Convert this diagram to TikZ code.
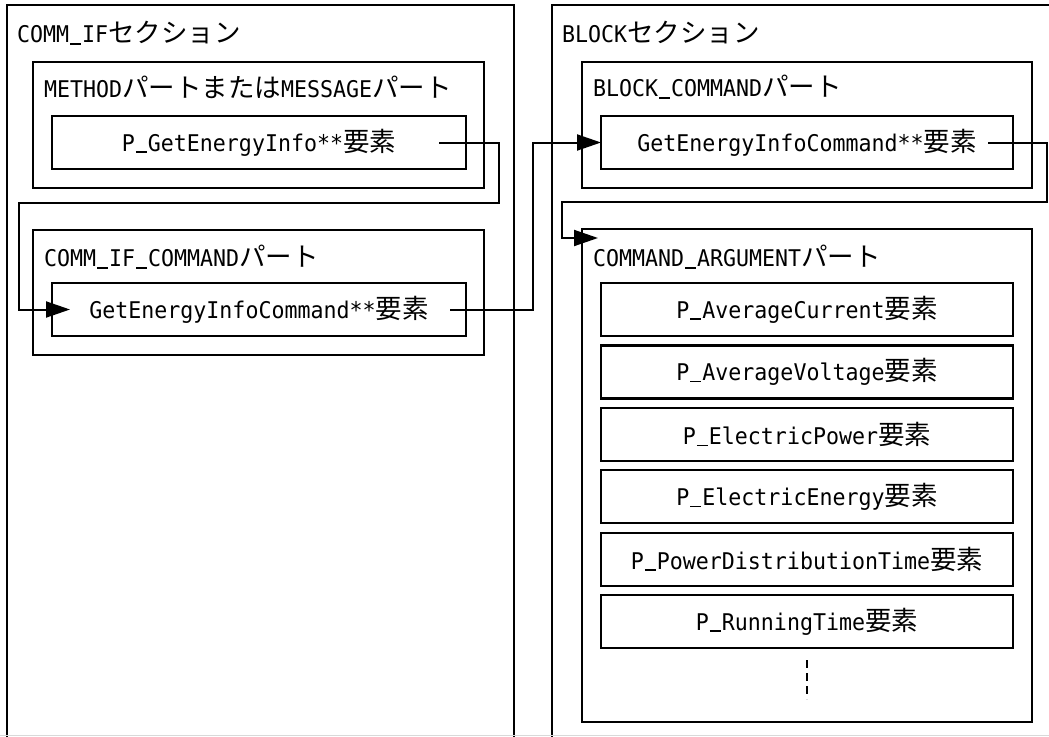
\documentclass[tikz,border=0pt]{standalone}
\usepackage{fontspec}
\setmainfont[FakeStretch=0.94]{DejaVu Sans Mono}
\newfontfamily\jpf{Noto Sans CJK JP}
\usetikzlibrary{arrows.meta,calc}
\newcommand\jtx[1]{{\jpf\fontsize{26.5}{26.5}\selectfont #1}}
\newcommand\us{\makebox[13pt][c]{\rule[-1.8pt]{11pt}{1.6pt}}}
\begin{document}
\begin{tikzpicture}[x=1pt,y=-1pt,
  box/.style={draw,line width=2.2pt,inner sep=0pt,outer sep=0pt,anchor=north west},
  tbox/.style={box,font=\fontsize{23}{23}\selectfont,align=center},
  lbl/.style={anchor=west,inner sep=0pt,outer sep=0pt,font=\fontsize{23}{23}\selectfont},
  conn/.style={line width=2pt},
  arr/.style={conn,-{Triangle[length=24pt,width=16pt]}},
  dline/.style={line width=2pt,dash pattern=on 8pt off 5pt}]
\useasboundingbox (0,0) rectangle (1049,736);
\clip (0,0) rectangle (1049,736);
% outer sections
\node[box,minimum width=507pt,minimum height=800pt] (outerL) at (7,5) {};
\node[box,minimum width=520pt,minimum height=800pt] (outerR) at (552,5) {};
\node[lbl] (tL) at (17,33) {COMM\us IF\jtx{セクション}};
\node[lbl] (tR) at (562,33) {BLOCK\jtx{セクション}};
% left parts
\node[box,minimum width=451pt,minimum height=126pt] (method) at (33,62) {};
\node[lbl] (tmethod) at (44,87) {METHOD\jtx{パートまたは}MESSAGE\jtx{パート}};
\node[tbox,minimum width=414pt,minimum height=53pt] (pget) at (52,116) {P\us GetEnergyInfo**\jtx{要素}};
\node[box,minimum width=451pt,minimum height=125pt] (ci) at (33,230) {};
\node[lbl] (tci) at (44,257) {COMM\us IF\us COMMAND\jtx{パート}};
\node[tbox,minimum width=414pt,minimum height=53pt] (geicL) at (52,283) {GetEnergyInfoCommand**\jtx{要素}};
% right parts
\node[box,minimum width=450pt,minimum height=126pt] (bc) at (582,62) {};
\node[lbl] (tbc) at (593,87) {BLOCK\us COMMAND\jtx{パート}};
\node[tbox,minimum width=412pt,minimum height=53pt] (geicR) at (601,116) {GetEnergyInfoCommand**\jtx{要素}};
\node[box,minimum width=450pt,minimum height=493pt] (ca) at (582,229) {};
\node[lbl] (tca) at (593,257) {COMMAND\us ARGUMENT\jtx{パート}};
\node[tbox,minimum width=412pt,minimum height=53pt] (e1) at (601,283) {P\us AverageCurrent\jtx{要素}};
\node[tbox,minimum width=412pt,minimum height=53pt] (e2) at (601,345.4) {P\us AverageVoltage\jtx{要素}};
\node[tbox,minimum width=412pt,minimum height=53pt] (e3) at (601,407.8) {P\us ElectricPower\jtx{要素}};
\node[tbox,minimum width=412pt,minimum height=53pt] (e4) at (601,470.2) {P\us ElectricEnergy\jtx{要素}};
\node[tbox,minimum width=412pt,minimum height=53pt] (e5) at (601,532.6) {P\us PowerDistributionTime\jtx{要素}};
\node[tbox,minimum width=412pt,minimum height=53pt] (e6) at (601,595) {P\us RunningTime\jtx{要素}};
\draw[dline] ($(e6.south)+(0,12)$) -- ($(e6.south)+(0,51)$);
% connectors
\coordinate (k1) at (499,203);
\coordinate (k2) at (19,203);
\draw[arr] ($(pget.east)+(-27,0)$) -| (k1) -- (k2) |- ($(geicL.west)+(18,0)$);
\draw[arr] ($(geicL.east)+(-16,0)$) -| ($(geicR.west)+(-68,0)$) -- (geicR.west);
\coordinate (k4) at (1047,202);
\coordinate (k5) at (562,202);
\draw[arr] ($(geicR.east)+(-25,0)$) -| (k4) -- (k5) |- ($(ca.north west)+(16,9)$);
\draw[black!15,line width=1pt] (0,735.5) -- (1049,735.5);
\end{tikzpicture}
\end{document}
